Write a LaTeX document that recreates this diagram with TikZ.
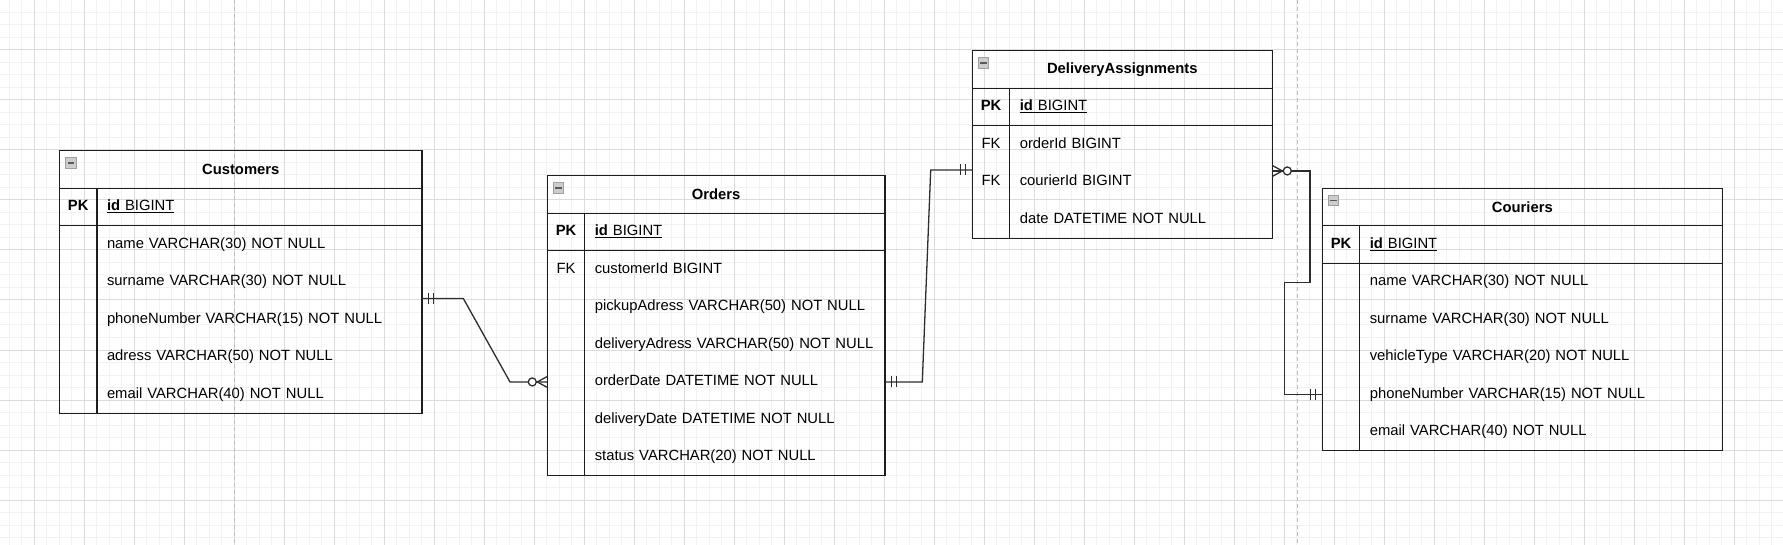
\documentclass[tikz,border=0pt]{standalone}
\usepackage{fontspec}
\setmainfont{Liberation Sans}
\usepackage{tikz}
\usetikzlibrary{decorations.markings,positioning,calc}
\usepackage{xcolor}
\definecolor{tabcol}{RGB}{30,30,30}
\definecolor{relcol}{RGB}{45,45,45}
\definecolor{gridminorcol}{RGB}{242,242,242}
\definecolor{gridmajorcol}{RGB}{220,220,220}
\definecolor{pagecol}{RGB}{190,190,190}
\definecolor{iconcol}{RGB}{205,205,205}
\newcommand{\erfont}{\fontsize{14.8}{17}\selectfont}
\tikzset{
  % canvas grid
  gridminor/.style={draw=gridminorcol, line width=1pt},
  gridmajor/.style={draw=gridmajorcol, line width=1pt},
  pageline/.style={draw=pagecol, line width=1pt, dash pattern=on 4pt off 3pt},
  % table frame lines
  tabline/.style={draw=tabcol, line width=1.3pt},
  % table title bar
  tabtitle/.style={rectangle, tabline, anchor=north west, minimum height=37.5pt,
                   inner sep=0pt, outer sep=0pt, font=\erfont\bfseries},
  % collapse icon in the title bar
  collapse/.style={rectangle, anchor=north west, draw=gray!75, fill=iconcol, line width=0.8pt,
                   minimum size=10.5pt, inner sep=0pt, outer sep=0pt,
                   path picture={\draw[black!65, line width=1.4pt]
                     ([xshift=2pt]path picture bounding box.west) -- ([xshift=-2pt]path picture bounding box.east);}},
  % key column cell
  keycell/.style={rectangle, anchor=north west, minimum width=37.5pt, minimum height=37.5pt,
                  text height=10.8pt, text depth=3.2pt, inner sep=0pt, outer sep=0pt},
  % field column cell
  fieldcell/.style={rectangle, anchor=north west, text width=#1, align=left, minimum height=37.5pt,
                    text height=10.8pt, text depth=3.2pt, inner xsep=10pt, inner ysep=0pt, outer sep=0pt},
  % relation line
  rel/.style={draw=relcol, line width=1.3pt},
  relmark/.style={draw=relcol, line width=1.3pt},
  % mandatory one
  onestart/.style={postaction={decorate, decoration={markings, mark=at position 0 with
    {\draw[relmark] (6.5pt,-5.5pt) -- (6.5pt,5.5pt) (11.5pt,-5.5pt) -- (11.5pt,5.5pt);}}}},
  oneend/.style={postaction={decorate, decoration={markings, mark=at position 1 with
    {\draw[relmark] (-6.5pt,-5.5pt) -- (-6.5pt,5.5pt) (-11.5pt,-5.5pt) -- (-11.5pt,5.5pt);}}}},
  % zero or many
  manystart/.style={postaction={decorate, decoration={markings, mark=at position 0 with
    {\draw[relmark] (0pt,-5.5pt) -- (10pt,0pt) -- (0pt,5.5pt);
     \draw[relmark, fill=white] (15pt,0pt) circle (4pt);}}}},
  manyend/.style={postaction={decorate, decoration={markings, mark=at position 1 with
    {\draw[relmark] (0pt,-5.5pt) -- (-10pt,0pt) -- (0pt,5.5pt);
     \draw[relmark, fill=white] (-15pt,0pt) circle (4pt);}}}},
}

\begin{document}
\begin{tikzpicture}[x=1pt, y=-1pt, font=\erfont]
  \useasboundingbox (0,0) rectangle (1783,545);
  % background grid
  \foreach \gx in {9.3,21.8,...,1783} \draw[gridminor] (\gx,0) -- (\gx,545);
  \foreach \gy in {12.5,25,...,545} \draw[gridminor] (0,\gy) -- (1783,\gy);
  \foreach \gx in {34.3,84.3,...,1783} \draw[gridmajor] (\gx,0) -- (\gx,545);
  \foreach \gy in {0,50,...,545} \draw[gridmajor] (0,\gy) -- (1783,\gy);
  \draw[pageline] (234.3,0) -- (234.3,545);
  \draw[pageline] (1297.3,0) -- (1297.3,545);

  % Customers
  \node[tabtitle, minimum width=362.5pt] (cu) at (59.5,150.7) {Customers};
  \node[collapse] (cu-icon) at ([xshift=6pt,yshift=-7pt]cu.north west) {};
  \node[keycell, tabline] (cu-pkkey) at (cu.south west) {\textbf{PK}};
  \node[fieldcell=305pt, tabline] (cu-pk) at (cu-pkkey.north east) {\underline{\textbf{id} BIGINT}};
  \foreach \k/\f [count=\i] in {/name VARCHAR(30) NOT NULL, /surname VARCHAR(30) NOT NULL,
      /phoneNumber VARCHAR(15) NOT NULL, /adress VARCHAR(50) NOT NULL, /email VARCHAR(40) NOT NULL} {
    \node[keycell] (cu-k\i) at ([yshift=-(\i-1)*37.5pt]cu-pkkey.south west) {\k};
    \node[fieldcell=305pt] (cu-r\i) at (cu-k\i.north east) {\mbox{\f}};
  }
  \draw[tabline] (cu-k1.north west) rectangle (cu-r5.south east);
  \draw[tabline] (cu-k1.north east) -- (cu-k5.south east);

  % Orders
  \node[tabtitle, minimum width=337.7pt] (o) at (547.3,175.7) {Orders};
  \node[collapse] (o-icon) at ([xshift=6pt,yshift=-7pt]o.north west) {};
  \node[keycell, tabline] (o-pkkey) at (o.south west) {\textbf{PK}};
  \node[fieldcell=280.2pt, tabline] (o-pk) at (o-pkkey.north east) {\underline{\textbf{id} BIGINT}};
  \foreach \k/\f [count=\i] in {FK/customerId BIGINT, /pickupAdress VARCHAR(50) NOT NULL,
      /deliveryAdress VARCHAR(50) NOT NULL, /orderDate DATETIME NOT NULL,
      /deliveryDate DATETIME NOT NULL, /status VARCHAR(20) NOT NULL} {
    \node[keycell] (o-k\i) at ([yshift=-(\i-1)*37.5pt]o-pkkey.south west) {\k};
    \node[fieldcell=280.2pt] (o-r\i) at (o-k\i.north east) {\mbox{\f}};
  }
  \draw[tabline] (o-k1.north west) rectangle (o-r6.south east);
  \draw[tabline] (o-k1.north east) -- (o-k6.south east);

  % DeliveryAssignments
  \node[tabtitle, minimum width=300pt] (da) at (972.3,50.7) {DeliveryAssignments};
  \node[collapse] (da-icon) at ([xshift=6pt,yshift=-7pt]da.north west) {};
  \node[keycell, tabline] (da-pkkey) at (da.south west) {\textbf{PK}};
  \node[fieldcell=242.5pt, tabline] (da-pk) at (da-pkkey.north east) {\underline{\textbf{id} BIGINT}};
  \foreach \k/\f [count=\i] in {FK/orderId BIGINT, FK/courierId BIGINT, /date DATETIME NOT NULL} {
    \node[keycell] (da-k\i) at ([yshift=-(\i-1)*37.5pt]da-pkkey.south west) {\k};
    \node[fieldcell=242.5pt] (da-r\i) at (da-k\i.north east) {\mbox{\f}};
  }
  \draw[tabline] (da-k1.north west) rectangle (da-r3.south east);
  \draw[tabline] (da-k1.north east) -- (da-k3.south east);

  % Couriers
  \node[tabtitle, minimum width=400pt] (co) at (1322.3,188.3) {Couriers};
  \node[collapse] (co-icon) at ([xshift=6pt,yshift=-7pt]co.north west) {};
  \node[keycell, tabline] (co-pkkey) at (co.south west) {\textbf{PK}};
  \node[fieldcell=342.5pt, tabline] (co-pk) at (co-pkkey.north east) {\underline{\textbf{id} BIGINT}};
  \foreach \k/\f [count=\i] in {/name VARCHAR(30) NOT NULL, /surname VARCHAR(30) NOT NULL,
      /vehicleType VARCHAR(20) NOT NULL, /phoneNumber VARCHAR(15) NOT NULL, /email VARCHAR(40) NOT NULL} {
    \node[keycell] (co-k\i) at ([yshift=-(\i-1)*37.5pt]co-pkkey.south west) {\k};
    \node[fieldcell=342.5pt] (co-r\i) at (co-k\i.north east) {\mbox{\f}};
  }
  \draw[tabline] (co-k1.north west) rectangle (co-r5.south east);
  \draw[tabline] (co-k1.north east) -- (co-k5.south east);

  % relations
  \draw[rel, onestart, manyend] ([yshift=21pt]cu-r3.east) -- ++(41.3,0)
    -- ([xshift=-37.3pt]o-k4.west) -- (o-k4.west);
  \draw[rel, onestart, oneend] (o-r4.east) -- ++(37.3,0)
    -- ([xshift=-41.6pt,yshift=12pt]da-k2.west) -- ([yshift=12pt]da-k2.west);
  \draw[rel, manystart, oneend] ([yshift=11pt]da-r2.east) -- ++(37.7,0) -- ++(0,111.7)
    -- ++(-25.7,0) |- (co-k4.west);
\end{tikzpicture}
\end{document}
